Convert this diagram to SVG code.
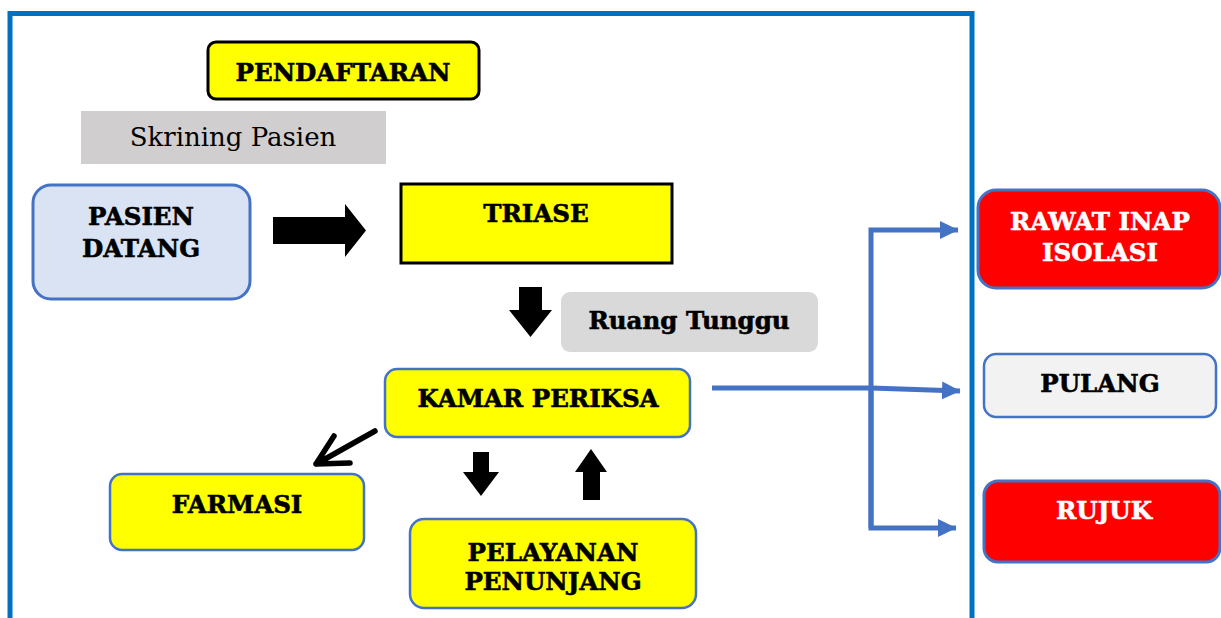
<svg xmlns="http://www.w3.org/2000/svg" width="1221" height="618" viewBox="0 0 1221 618">
<style>
.t{font-family:"DejaVu Serif","Liberation Serif",serif;font-weight:bold;font-size:24.5px;text-anchor:middle;fill:#000;stroke:#000;stroke-width:0.6}
.w{fill:#fff;stroke:#fff}
.y{fill:#FFFF00}
.bs{stroke:#4472C4;stroke-width:2.5}
.conn{fill:none;stroke:#4472C4;stroke-width:5}
</style>
<defs>
<marker id="ah" markerWidth="4" markerHeight="4" refX="3.6" refY="2" orient="auto" markerUnits="strokeWidth">
<path d="M0,0.2 L3.7,2 L0,3.8 Z" fill="#4472C4"/>
</marker>
</defs>
<rect width="1221" height="618" fill="#fff"/>
<path d="M10,620 V13.5 H972 V620" fill="none" stroke="#0070C0" stroke-width="5"/>

<g id="pendaftaran">
<rect x="208" y="42" width="271" height="57" rx="8" class="y" stroke="#000" stroke-width="3"/>
<text x="343" y="81" class="t">PENDAFTARAN</text>
</g>
<g id="skrining">
<rect x="81" y="111" width="305" height="53" fill="#D0CECE"/>
<text x="233" y="146" style="font-family:'DejaVu Serif','Liberation Serif',serif;font-size:26px;text-anchor:middle">Skrining Pasien</text>
</g>
<g id="pasien">
<rect x="33" y="185" width="217" height="114" rx="18" fill="#DAE3F3" stroke="#4472C4" stroke-width="3"/>
<text x="141" y="225" class="t">PASIEN</text>
<text x="141" y="257" class="t">DATANG</text>
</g>
<g id="triase">
<rect x="401" y="184" width="271" height="79" class="y" stroke="#000" stroke-width="3"/>
<text x="536" y="222" class="t">TRIASE</text>
</g>
<g id="ruang">
<rect x="561" y="292" width="257" height="60" rx="9" fill="#D9D9D9"/>
<text x="689" y="329" class="t">Ruang Tunggu</text>
</g>
<g id="kamar">
<rect x="385" y="369" width="305" height="68" rx="12" class="y bs"/>
<text x="538" y="407" class="t">KAMAR PERIKSA</text>
</g>
<g id="farmasi">
<rect x="110" y="474" width="254" height="76" rx="12" class="y bs"/>
<text x="237" y="513" class="t">FARMASI</text>
</g>
<g id="pelayanan">
<rect x="410" y="519" width="286" height="89" rx="14" class="y bs"/>
<text x="553" y="561" class="t">PELAYANAN</text>
<text x="553" y="590" class="t">PENUNJANG</text>
</g>
<g id="rawat">
<rect x="978" y="190" width="242" height="98" rx="18" fill="#FF0000" stroke="#4472C4" stroke-width="3"/>
<text x="1100" y="230" class="t w">RAWAT INAP</text>
<text x="1100" y="261" class="t w">ISOLASI</text>
</g>
<g id="pulang">
<rect x="984" y="354" width="232" height="63" rx="12" fill="#F2F2F2" class="bs"/>
<text x="1100" y="392" class="t">PULANG</text>
</g>
<g id="rujuk">
<rect x="984" y="481" width="236" height="81" rx="14" fill="#FF0000" stroke="#4472C4" stroke-width="3"/>
<text x="1104" y="519" class="t w">RUJUK</text>
</g>

<g id="connectors">
<path d="M273,217 H345 V204 L366,230.5 L345,257 V244 H273 Z" fill="#000"/>
<path d="M519,287 H542 V310 H552 L530.5,337 L509,310 H519 Z" fill="#000"/>
<path d="M473,452 H489 V472 H499 L481,496 L463,472 H473 Z" fill="#000"/>
<path d="M583,500 H600 V472 H607 L591,449 L575,472 H583 Z" fill="#000"/>
<path d="M375,431 L318,463 M316,464 L334,436 M316,464 L350,463" fill="none" stroke="#000" stroke-width="5.5" stroke-linecap="round" stroke-linejoin="round"/>
<path d="M712,388 H871" class="conn"/>
<path d="M871,388 L960,391" class="conn" marker-end="url(#ah)"/>
<path d="M871,528 V230 H958" class="conn" marker-end="url(#ah)"/>
<path d="M871,388 V528 H956" class="conn" marker-end="url(#ah)"/>
</g>
</svg>
